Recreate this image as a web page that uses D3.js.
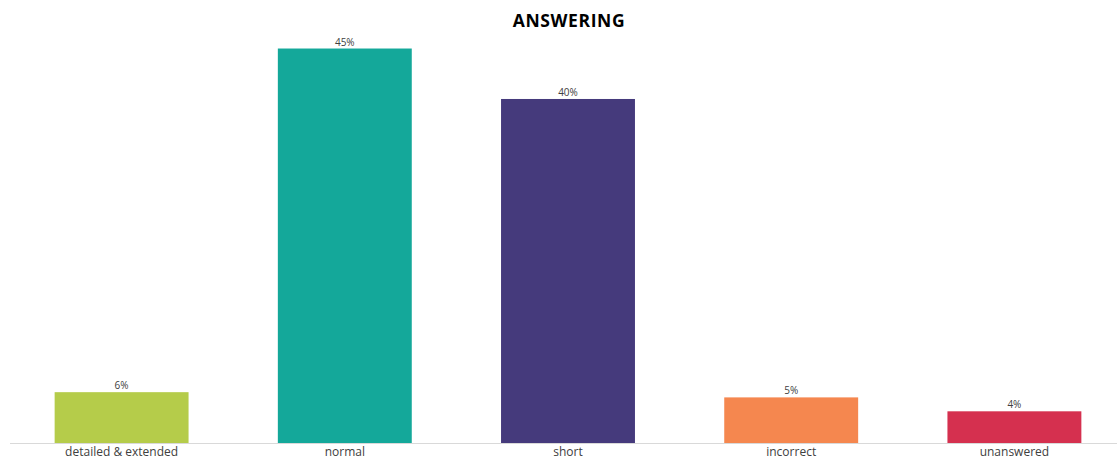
<!DOCTYPE html>
<html>
<head>
<meta charset="utf-8">
<script src="https://cdn.jsdelivr.net/npm/d3@7"></script>
<style>
  html, body { margin: 0; padding: 0; background: #fff; }
  svg { display: block; font-family: "Open Sans", "Noto Sans", sans-serif; }
</style>
</head>
<body>
<svg id="chart" width="1119" height="460"></svg>
<script>
// data (percent)
const categories = ['detailed & extended', 'normal', 'short', 'incorrect', 'unanswered'];
const values = [5.9, 45.4, 39.6, 5.3, 3.7];
const colors = ['#b5cc4a', '#14a89a', '#453a7c', '#f5874f', '#d5304f'];
const title = 'ANSWERING';

const baseY = 443.5;

const svg = d3.select('#chart');

/* ── Scales ─────────────────────────────────────────── */
const x = d3.scaleBand()
  .domain(categories)
  .range([10, 1126])
  .paddingInner(0.4)
  .paddingOuter(0.2);

const y = d3.scaleLinear()
  .domain([0, 50])
  .range([baseY, baseY - 50 * 8.7]);

const pct = d3.format('.0%');

/* ── Title ──────────────────────────────────────────── */
svg.append('text')
  .attr('x', 569)
  .attr('y', 27)
  .attr('text-anchor', 'middle')
  .attr('font-size', 17.5)
  .attr('font-weight', 700)
  .attr('letter-spacing', 0.6)
  .attr('fill', '#000')
  .text(title);

/* ── Bars ───────────────────────────────────────────── */
const rows = categories.map((c, i) => ({ c, v: values[i], col: colors[i] }));

svg.selectAll('rect.bar')
  .data(rows)
  .join('rect')
  .attr('class', 'bar')
  .attr('x', d => x(d.c))
  .attr('width', x.bandwidth())
  .attr('y', d => y(d.v))
  .attr('height', d => y(0) - y(d.v))
  .attr('fill', d => d.col);

/* ── Value labels ───────────────────────────────────── */
svg.selectAll('text.val')
  .data(rows)
  .join('text')
  .attr('class', 'val')
  .attr('x', d => x(d.c) + x.bandwidth() / 2)
  .attr('y', d => y(d.v) - 3)
  .attr('text-anchor', 'middle')
  .attr('font-size', 10)
  .attr('fill', '#404040')
  .text(d => pct(d.v / 100));

/* ── X axis ─────────────────────────────────────────── */
svg.append('line')
  .attr('x1', 10).attr('x2', 1117)
  .attr('y1', baseY).attr('y2', baseY)
  .attr('stroke', '#d9d9d9')
  .attr('stroke-width', 1);

const xAxis = svg.append('g')
  .attr('transform', `translate(0,${baseY})`)
  .call(d3.axisBottom(x).tickSize(0).tickPadding(4));
xAxis.select('.domain').remove();
xAxis.selectAll('text')
  .attr('font-size', 12)
  .attr('font-family', '"Open Sans", "Noto Sans", sans-serif')
  .attr('fill', '#404040');
</script>
</body>
</html>
